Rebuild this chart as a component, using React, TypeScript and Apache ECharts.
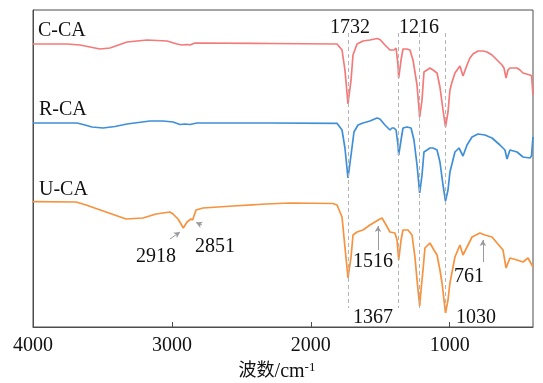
import React, { useEffect, useRef } from "react";
import * as echarts from "echarts";

// Wavenumber ticks (cm^-1)
const WN_TICKS = [4000, 3000, 2000, 1000];

// Spectra: [wavenumber, offset transmittance (a.u.)]
const C_CA: number[][] = [
  [4000, 283], [3755, 283], [3662, 282], [3518, 278], [3446, 279], [3323, 285], [3179, 287], [3035, 286],
  [2963, 283], [2927, 282], [2891, 282.5], [2870, 282], [2834, 284], [2294, 283.5], [1811, 283], [1775, 277],
  [1754, 257], [1732, 223], [1710, 247], [1696, 272], [1667, 283], [1624, 286], [1574, 287], [1523, 288.5],
  [1502, 287.5], [1466, 282], [1430, 277], [1401, 277], [1386, 279], [1372, 262], [1367, 249], [1350, 267],
  [1336, 278], [1307, 278], [1286, 277], [1264, 267], [1235, 242], [1216, 210], [1199, 227], [1185, 255],
  [1163, 257], [1142, 259], [1120, 257], [1091, 254], [1070, 240], [1048, 217], [1030, 200], [1012, 215],
  [998, 237], [983, 245], [962, 254], [926, 261], [904, 251], [875, 262], [854, 269], [832, 273], [796, 276],
  [760, 276], [731, 275], [695, 272], [659, 267], [623, 262], [609, 259], [594, 249], [580, 257], [566, 259],
  [515, 259], [494, 257], [472, 254], [422, 252], [410, 251], [400, 232],
];

const R_CA: number[][] = [
  [4000, 204], [3683, 204], [3626, 202], [3575, 200], [3496, 199], [3410, 200.5], [3323, 203], [3158, 206],
  [3064, 206], [2992, 205], [2942, 202.5], [2906, 203], [2870, 202.5], [2819, 204], [2294, 204], [1811, 203.7],
  [1775, 197], [1754, 179], [1732, 149], [1710, 172], [1689, 195], [1660, 202], [1624, 204], [1574, 206],
  [1523, 209], [1502, 208], [1466, 202], [1430, 197], [1415, 199], [1401, 199], [1386, 197], [1372, 182],
  [1367, 172], [1350, 187], [1336, 199], [1307, 200], [1278, 199], [1257, 187], [1235, 162], [1216, 134],
  [1199, 152], [1185, 175], [1163, 177], [1142, 179], [1120, 179], [1091, 177], [1070, 165], [1048, 142],
  [1030, 126], [1012, 137], [998, 155], [962, 175], [933, 179], [904, 171], [875, 182], [839, 190], [796, 193],
  [746, 192], [695, 189], [638, 182], [602, 177], [587, 168], [566, 177], [515, 175], [472, 170], [422, 169],
  [411, 171], [400, 190],
];

const U_CA: number[][] = [
  [4000, 125.3], [3690, 125], [3618, 122], [3474, 115], [3330, 108], [3208, 109], [3114, 113], [3014, 115],
  [2992, 113], [2956, 108], [2934, 103], [2918, 99], [2891, 105], [2862, 108], [2851, 107], [2826, 117],
  [2776, 119], [2560, 121], [2322, 123], [2150, 124], [1840, 123.5], [1811, 122], [1775, 110], [1754, 80],
  [1732, 49], [1710, 70], [1696, 92], [1667, 95], [1624, 97], [1574, 102], [1538, 105], [1502, 108],
  [1487, 109], [1466, 104], [1430, 95], [1394, 94], [1379, 87], [1367, 67], [1350, 87], [1336, 97],
  [1300, 97], [1271, 92], [1250, 70], [1235, 47], [1216, 21], [1206, 37], [1192, 57], [1178, 79], [1142, 84],
  [1113, 77], [1091, 72], [1070, 57], [1055, 44], [1030, 14], [1012, 27], [998, 44], [962, 70], [926, 82],
  [904, 72], [875, 80], [839, 90], [782, 94], [746, 92], [695, 90], [659, 84], [616, 77], [594, 59], [566, 69],
  [515, 67], [472, 65], [436, 69], [400, 60],
];

// Marked peaks (dashed guide lines)
const PEAK_LINES = [1732, 1367, 1216, 1030];

// Text annotations: [text, wavenumber, value, align]
const LABELS: [string, number, number, string][] = [
  ["C-CA", 3964, 298, "left"],
  ["R-CA", 3957, 219.5, "left"],
  ["U-CA", 3957, 139.5, "left"],
  ["1732", 1718, 301.5, "center"],
  ["1216", 1221, 301.5, "center"],
  ["2918", 3114, 72, "center"],
  ["2851", 2690, 82, "center"],
  ["1516", 1552, 67.5, "center"],
  ["1367", 1552, 11, "center"],
  ["761", 861, 52, "center"],
  ["1030", 810, 11, "center"],
];

// Arrows: [fromWn, fromV, toWn, toV]
const ARROWS: number[][] = [
  [3014, 88, 2942, 95],
  [2783, 102, 2826, 104.5],
  [1516, 77, 1516, 101],
  [761, 65, 761, 87],
];

const FONT = "'Times New Roman', 'Liberation Serif', 'Noto Sans CJK SC', serif";
const AXIS_COLOR = "#4d4d4d";

export default function App() {
  const ref = useRef<HTMLDivElement>(null);
  useEffect(() => {
    if (!ref.current) return;
    const chart = echarts.init(ref.current, null, { renderer: "svg" });

    const dashed = PEAK_LINES.map((wn) => [
      { coord: [wn, 294], symbol: "none", lineStyle: { type: [4, 3], color: "#b4b4b4", width: 1 } },
      { coord: [wn, 19], symbol: "none" },
    ]);
    const arrows = ARROWS.map((a) => [
      { coord: [a[0], a[1]], symbol: "none", lineStyle: { type: "solid", color: "#9a9a9a", width: 1 } },
      { coord: [a[2], a[3]], symbol: "arrow", symbolSize: [5, 6] },
    ]);
    const labels = LABELS.map((l) => ({
      coord: [l[1], l[2]],
      symbol: "circle",
      symbolSize: 1,
      itemStyle: { color: "rgba(0,0,0,0)" },
      label: {
        show: true,
        position: "inside",
        formatter: l[0],
        align: l[3],
        verticalAlign: "middle",
        fontSize: 20,
        fontFamily: FONT,
        color: "#111",
      },
    }));

    const line = (name: string, data: number[][], color: string, extra: any = {}) => ({
      name,
      type: "line",
      data,
      showSymbol: false,
      symbol: "none",
      lineStyle: { color, width: 1.7 },
      itemStyle: { color },
      silent: true,
      ...extra,
    });

    chart.setOption({
      animation: false,
      grid: {
        left: 33,
        right: 10,
        top: 10,
        bottom: 56,
        show: true,
        borderColor: AXIS_COLOR,
        borderWidth: 1,
        outerBoundsMode: "none",
      },
      xAxis: {
        type: "value",
        min: 400,
        max: 4000,
        inverse: true,
        axisLine: { show: true, lineStyle: { color: AXIS_COLOR, width: 1 } },
        axisTick: { show: true, inside: true, length: 5, customValues: WN_TICKS, lineStyle: { color: AXIS_COLOR } },
        axisLabel: {
          customValues: WN_TICKS,
          margin: 7,
          fontSize: 20,
          fontFamily: FONT,
          color: "#111",
          formatter: (v: number) => String(v),
        },
        splitLine: { show: false },
        name: "{a|波数}{c|/cm}{b|-1}",
        nameLocation: "middle",
        nameGap: 33,
        nameTextStyle: {
          padding: [0, 12, 0, 0],
          lineHeight: 20,
          rich: {
            a: { fontSize: 18, fontFamily: FONT, color: "#111", lineHeight: 20 },
            c: { fontSize: 20, fontFamily: FONT, color: "#111", lineHeight: 20 },
            b: { fontSize: 13, fontFamily: FONT, color: "#111", verticalAlign: "top", lineHeight: 12 },
          },
        },
      },
      yAxis: {
        type: "value",
        min: 0,
        max: 317,
        axisLine: { show: true, lineStyle: { color: AXIS_COLOR, width: 1 } },
        axisTick: { show: false },
        axisLabel: { show: false },
        splitLine: { show: false },
      },
      series: [
        line("C-CA", C_CA, "#F47A7A"),
        line("R-CA", R_CA, "#3F8FD8"),
        line("U-CA", U_CA, "#F7923E", {
          markLine: {
            silent: true,
            symbol: ["none", "none"],
            label: { show: false },
            animation: false,
            data: [...dashed, ...arrows],
          },
          markPoint: {
            silent: true,
            animation: false,
            data: labels,
          },
        }),
      ],
    });
    return () => chart.dispose();
  }, []);
  return <div ref={ref} style={{ position: "fixed", left: 0, top: 0, width: 543, height: 383 }} />;
}
